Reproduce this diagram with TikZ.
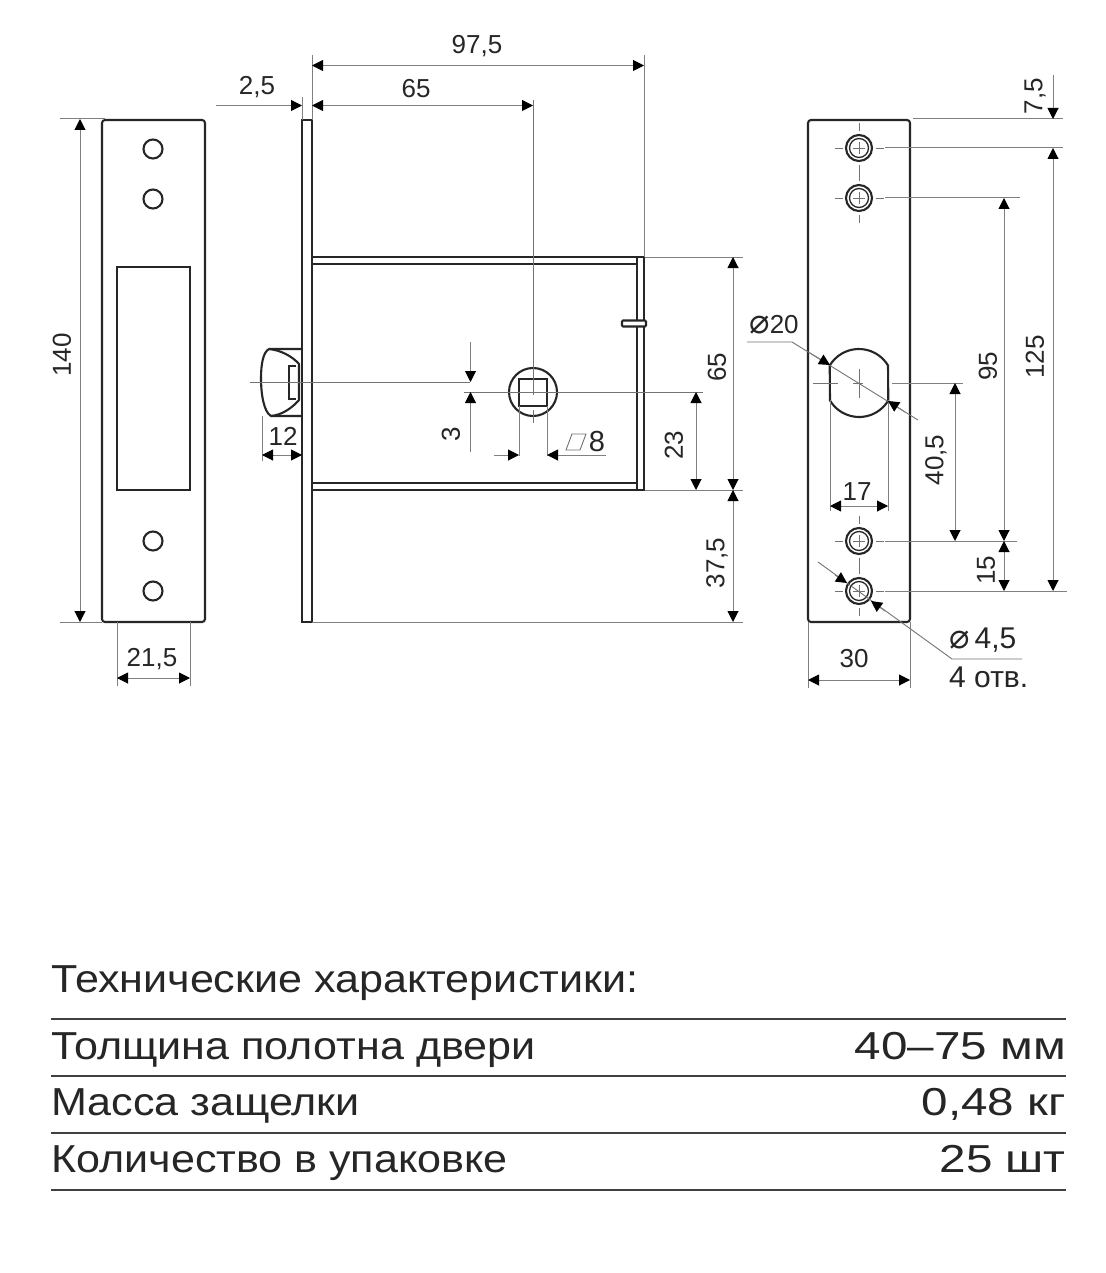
\documentclass[tikz,border=0pt]{standalone}
\usepackage{fontspec}
\setmainfont{Liberation Sans}
\newfontfamily\symfont{DejaVu Sans}
\newfontfamily\tablefont[FakeStretch=1.105]{Liberation Sans}
\newfontfamily\valuefont[FakeStretch=1.22]{Liberation Sans}
\usetikzlibrary{arrows.meta}
\tikzset{>={Triangle[length=11pt,width=11pt,black]}}
\tikzset{
  outline/.style={line width=2.1pt, draw=black!85},
  dimline/.style={line width=1pt, draw=black!50},
  thinline/.style={line width=0.9pt, draw=black!55},
  dimtext/.style={inner sep=0pt, text=black!85, font=\fontsize{26}{26}\selectfont},
  rowtext/.style={inner sep=0pt, text=black!85, font=\tablefont\fontsize{39}{39}\selectfont},
  valtext/.style={inner sep=0pt, text=black!85, font=\valuefont\fontsize{39}{39}\selectfont},
  rowrule/.style={line width=1.8pt, draw=black!75}
}

\begin{document}
\begin{tikzpicture}[x=1pt,y=-1pt]

  \useasboundingbox[fill=white] (0,0) rectangle (1105,1273);

  % left plate
  \draw[outline, rounded corners=3pt] (102,120) rectangle (205,622);
  \draw[outline] (117,267) rectangle (190,490);
  \foreach \ypos in {149,199,541,591}
    \draw[outline] (153,\ypos) circle (9.5);

  \draw[dimline] (60,119) -- (105,119);
  \draw[dimline] (60,622) -- (102,622);
  \draw[dimline, <->] (80,119) -- (80,622);
  \node[dimtext, rotate=90] (lblheight) at (62,355) {140};
  \draw[dimline] (117,622) -- (117,686);
  \draw[dimline] (190,622) -- (190,686);
  \draw[dimline, <->] (117,678) -- (190,678);
  \node[dimtext] (lblstrike) at (152,659) {21,5};

  % middle view
  \draw[outline] (302,120) rectangle (312,622);
  \draw[outline] (312,257) -- (644,257) -- (644,490) -- (312,490);
  \draw[outline] (312,264) -- (637,264);
  \draw[outline] (312,483) -- (637,483);
  \draw[outline] (637,257) -- (637,490);
  \draw[outline, fill=white, rounded corners=1pt] (622,320.5) rectangle (646,326.5);
  \draw[outline] (302,349) -- (269,349) .. controls (263,352) and (261,365) .. (261,378)
    .. controls (261,395) and (264,412) .. (271,416) -- (302,416);
  \draw[outline] (269,349) .. controls (280,350) and (292,356) .. (299,364) -- (299,400)
    .. controls (292,408) and (282,415) .. (271,416);
  \draw[outline] (296,366) -- (289,366) -- (289,399) -- (296,399);
  \draw[outline] (533,392) circle (24);
  \draw[outline] (519,379) rectangle (547,406);

  \draw[thinline] (250,382) -- (470,382);
  \draw[thinline] (464,392) -- (703,392);
  \draw[thinline] (533,100) -- (533,395);
  \draw[thinline] (533,410) -- (533,423);

  \draw[dimline] (312,55) -- (312,120);
  \draw[dimline] (644,55) -- (644,257);
  \draw[dimline] (302,97) -- (302,120);
  \draw[dimline, <->] (312,65.5) -- (644,65.5);
  \node[dimtext] (lbldepth) at (477,46) {97,5};
  \draw[dimline, <->] (312,105.5) -- (533,105.5);
  \node[dimtext] (lblback) at (416,89) {65};
  \draw[dimline, ->] (216,105.5) -- (302,105.5);
  \node[dimtext] (lblfront) at (257,87) {2,5};

  \draw[dimline] (262,416) -- (262,461);
  \draw[dimline, <->] (262,455) -- (302,455);
  \node[dimtext] (lblbolt) at (283,436) {12};

  \draw[dimline, ->] (470.5,342) -- (470.5,382);
  \draw[dimline, ->] (470.5,452) -- (470.5,392);
  \node[dimtext, rotate=90] (lbloffset) at (451,434) {3};

  \draw[dimline] (519,406) -- (519,456);
  \draw[dimline] (547,406) -- (547,456);
  \draw[dimline, ->] (494,455) -- (519,455);
  \draw[dimline, ->] (606,455) -- (547,455);
  \draw[thinline] (566,450) -- (572,434) -- (586,434) -- (580,450) -- cycle;
  \node[dimtext, font=\fontsize{29}{29}\selectfont] (lblsquare) at (597,442) {8};

  \draw[dimline] (645,257) -- (743,257);
  \draw[dimline] (645,490) -- (743,490);
  \draw[dimline] (312,622) -- (743,622);
  \draw[dimline, <->] (733,257) -- (733,490);
  \node[dimtext, rotate=90] (lblcase) at (717,367) {65};
  \draw[dimline, <->] (733,490) -- (733,622);
  \node[dimtext, rotate=90] (lbllower) at (717,563) {37,5};
  \draw[dimline, <->] (696,392) -- (696,490);
  \node[dimtext, rotate=90] (lblaxis) at (674,445) {23};

  % right plate
  \draw[outline, rounded corners=3pt] (808,120) rectangle (910,622);
  \foreach \ypos in {148,198,541,591}{
    \draw[outline] (859,\ypos) circle (13);
    \draw[outline, line width=1.3pt] (859,\ypos) circle (9.5);
    \draw[thinline] (853,\ypos) -- (865,\ypos);
    \draw[thinline] (859,\ypos-6) -- (859,\ypos+6);
    \draw[thinline] (835,\ypos) -- (843,\ypos);
    \draw[thinline] (876,\ypos) -- (884,\ypos);
    \draw[thinline] (859,\ypos-25) -- (859,\ypos-17);
    \draw[thinline] (859,\ypos+17) -- (859,\ypos+25);
  }
  \draw[outline] (888,365.5) arc (-31:-149:34) -- (830,400.5) arc (149:31:34) -- cycle;
  \draw[thinline] (813,383) -- (838,383);
  \draw[thinline] (853,383) -- (863,383);
  \draw[thinline] (859,369) -- (859,398);

  \draw[dimline] (913,119) -- (1063,119);
  \draw[dimline] (885,148) -- (1063,148);
  \draw[dimline] (885,198) -- (1020,198);
  \draw[dimline] (892,383) -- (963,383);
  \draw[dimline] (885,541) -- (1017,541);
  \draw[dimline] (885,591) -- (1067,591);

  \draw[dimline, ->] (1053,75) -- (1053,119);
  \node[dimtext, rotate=90] (lblmargin) at (1035,96) {7,5};
  \draw[dimline, <->] (1053,148) -- (1053,591);
  \node[dimtext, rotate=90] (lblouter) at (1035,357) {125};
  \draw[dimline, <->] (1004,198) -- (1004,541);
  \node[dimtext, rotate=90] (lblinner) at (988,366) {95};
  \draw[dimline, <->] (1004,541) -- (1004,591);
  \node[dimtext, rotate=90] (lblpair) at (986,570) {15};
  \draw[dimline, <->] (955,383) -- (955,541);
  \node[dimtext, rotate=90] (lblkey) at (936,460) {40,5};

  \draw[dimline] (830,400) -- (830,511);
  \draw[dimline] (888,400) -- (888,511);
  \draw[dimline, <->] (830,506) -- (888,506);
  \node[dimtext] (lblflat) at (857,492) {17};
  \draw[dimline] (808,622) -- (808,688);
  \draw[dimline] (910,622) -- (910,688);
  \draw[dimline, <->] (808,680) -- (910,680);
  \node[dimtext] (lblwidth) at (854,659) {30};

  % leaders
  \draw[thinline] (747,342) -- (792,342) -- (918,420);
  \draw[dimline, ->] (810,353) -- (830,365);
  \draw[dimline, ->] (905,412) -- (888,401);
  \node[dimtext] (lblkeydia) at (774,325) {{\symfont\fontsize{34}{34}\selectfont ⌀}20};
  \draw[thinline] (818,562) -- (952,659) -- (1022,659);
  \draw[dimline, ->] (835,575) -- (847,583);
  \draw[dimline, ->] (885,611) -- (871,601);
  \node[dimtext, anchor=west, font=\fontsize{30}{30}\selectfont] (lblholedia) at (949,640) {{\symfont\fontsize{34}{34}\selectfont ⌀}\,4,5};
  \node[dimtext, anchor=west, font=\fontsize{30}{30}\selectfont] (lblholes) at (949,677) {4 отв.};

  % table
  \node[rowtext, anchor=base west] (title) at (51,992) {Технические характеристики:};
  \foreach \ypos in {1019,1076,1133,1190}
    \draw[rowrule] (51,\ypos) -- (1066,\ypos);
  \node[rowtext, anchor=base west] (rowdoor) at (51,1059) {Толщина полотна двери};
  \node[valtext, anchor=base east] (valdoor) at (1066,1059) {40–75 мм};
  \node[rowtext, anchor=base west] (rowmass) at (51,1115) {Масса защелки};
  \node[valtext, anchor=base east] (valmass) at (1066,1115) {0,48 кг};
  \node[rowtext, anchor=base west] (rowpack) at (51,1172) {Количество в упаковке};
  \node[valtext, anchor=base east] (valpack) at (1066,1172) {25 шт};

\end{tikzpicture}
\end{document}
